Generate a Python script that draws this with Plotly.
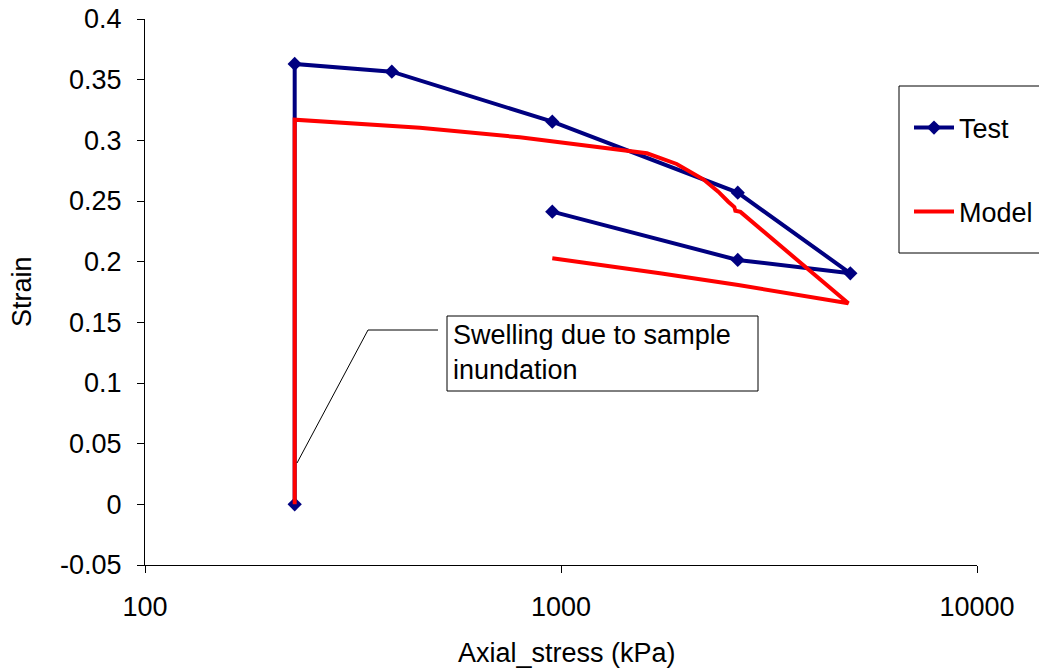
import plotly.graph_objects as go

# Oedometer test: measured points
test_stress = [229, 229, 392, 953, 2660, 4960, 2660, 953]
test_strain = [0.0, 0.363, 0.3566, 0.3154, 0.2569, 0.1904, 0.2014, 0.2412]

# Constitutive model prediction
model_stress = [229, 229, 458, 796, 1609, 1897, 2198, 2388, 2524, 2610, 2625, 2700, 4906, 2667, 1729, 953]
model_strain = [0.0, 0.317, 0.3104, 0.3025, 0.2893, 0.2805, 0.2679, 0.2577, 0.2494, 0.2450, 0.2420, 0.2410, 0.1657, 0.1808, 0.1904, 0.2028]

y_ticks = [0.4, 0.35, 0.3, 0.25, 0.2, 0.15, 0.1, 0.05, 0.0, -0.05]
y_tick_text = ["0.4", "0.35", "0.3", "0.25", "0.2", "0.15", "0.1", "0.05", "0", "-0.05"]
x_ticks = [100, 1000, 10000]
x_tick_text = ["100", "1000", "10000"]

W, H = 1039, 670
L, R, T, B = 145, 977, 19, 565
FONT = "Liberation Sans, Arial, sans-serif"
FS = 27


def px(x):
    return (x - L) / (R - L)


def py(y):
    return (B - y) / (B - T)


fig = go.Figure()
fig.add_trace(go.Scatter(
    x=test_stress, y=test_strain, name="Test", mode="lines+markers",
    line=dict(color="#000080", width=4),
    marker=dict(symbol="diamond", size=11, color="#000080"),
    legend="legend",
))
fig.add_trace(go.Scatter(
    x=model_stress, y=model_strain, name="Model", mode="lines",
    line=dict(color="#FF0000", width=4),
    legend="legend2",
))

legend_common = dict(
    font=dict(family=FONT, size=FS, color="black"),
    bgcolor="rgba(0,0,0,0)", borderwidth=0,
    xref="container", yref="container",
    xanchor="left", yanchor="middle", itemwidth=40,
)

fig.update_layout(
    width=W, height=H,
    margin=dict(l=L, r=W - R, t=T, b=H - B, autoexpand=False),
    paper_bgcolor="white", plot_bgcolor="white",
    font=dict(family=FONT, size=FS, color="black"),
    legend=dict(x=909 / W, y=1 - 128 / H, **legend_common),
    legend2=dict(x=909 / W, y=1 - 212 / H, **legend_common),
    xaxis=dict(
        type="log", range=[2, 4],
        tickvals=x_ticks, ticktext=x_tick_text,
        ticks="outside", ticklen=7, tickcolor="black",
        showline=True, linecolor="black", linewidth=1,
        showgrid=False, zeroline=False, automargin=False,
        tickfont=dict(family=FONT, size=FS, color="black"),
        ticklabelstandoff=11,
    ),
    yaxis=dict(
        range=[-0.05, 0.4],
        tickvals=y_ticks, ticktext=y_tick_text,
        ticks="outside", ticklen=7, tickcolor="black",
        showline=True, linecolor="black", linewidth=1,
        showgrid=False, zeroline=False, automargin=False,
        tickfont=dict(family=FONT, size=FS, color="black"),
        ticklabelstandoff=10,
    ),
    showlegend=True,
)

# Legend frame
fig.add_shape(type="rect", xref="paper", yref="paper",
              x0=px(899), x1=px(1050), y0=py(253), y1=py(86),
              line=dict(color="black", width=1), fillcolor="rgba(0,0,0,0)")

# Callout box and leader line
fig.add_shape(type="rect", xref="paper", yref="paper",
              x0=px(447), x1=px(758), y0=py(391), y1=py(316),
              line=dict(color="black", width=1), fillcolor="white")
fig.add_shape(type="path", xref="paper", yref="paper",
              path=f"M {px(438)},{py(330)} L {px(368)},{py(330)} L {px(297)},{py(463)}",
              line=dict(color="black", width=1))
fig.add_annotation(xref="paper", yref="paper", x=px(451), y=py(352),
                   xanchor="left", yanchor="middle", align="left",
                   text="Swelling due to sample<br>inundation", showarrow=False,
                   font=dict(family=FONT, size=FS, color="black"))

# Axis titles
fig.add_annotation(xref="paper", yref="paper", x=px(567), y=py(653),
                   xanchor="center", yanchor="middle", text="Axial_stress (kPa)",
                   showarrow=False, font=dict(family=FONT, size=FS, color="black"))
fig.add_annotation(xref="paper", yref="paper", x=px(22), y=py(292),
                   xanchor="center", yanchor="middle", text="Strain", textangle=-90,
                   showarrow=False, font=dict(family=FONT, size=FS, color="black"))

fig.write_html("out.html")
